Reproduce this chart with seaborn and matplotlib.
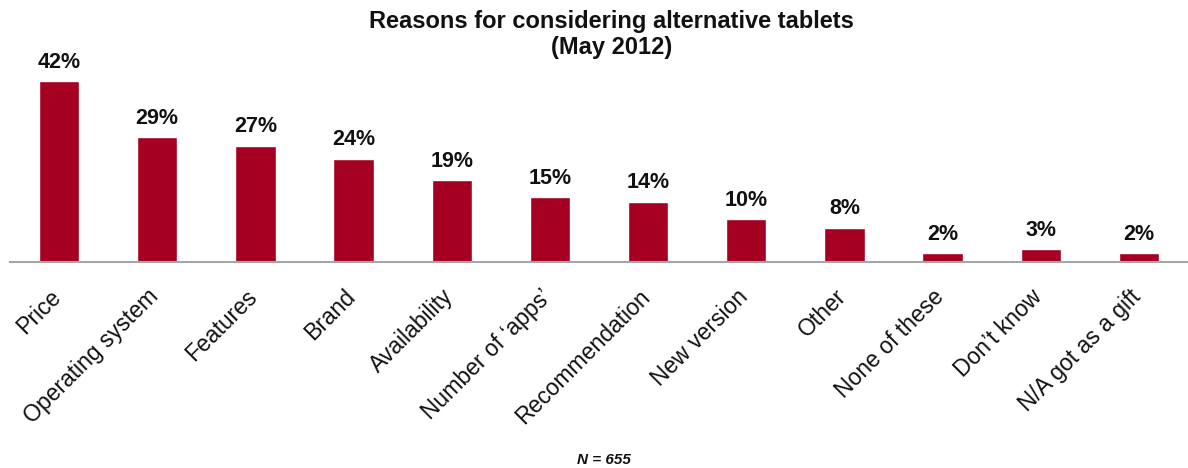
import matplotlib
matplotlib.use("Agg")
import matplotlib.pyplot as plt
import matplotlib.transforms as mtransforms
import seaborn as sns
import pandas as pd

categories = ["Price", "Operating system", "Features", "Brand", "Availability",
              "Number of \u2018apps\u2019", "Recommendation", "New version", "Other",
              "None of these", "Don\u2019t know", "N/A got as a gift"]
values = [42, 29, 27, 24, 19, 15, 14, 10, 8, 2, 3, 2]
value_labels = [f"{v}%" for v in values]
title = "Reasons for considering alternative tablets\n(May 2012)"
note = "N = 655"

sns.set_theme(style="white")
plt.rcParams['font.family'] = ['Liberation Sans', 'DejaVu Sans']

df = pd.DataFrame({"category": categories, "value": values})

fig = plt.figure(figsize=(11.88, 4.68), dpi=100)
ax = fig.add_axes([10/1188, 206/468, 1178/1188, 215.5/468])

sns.barplot(data=df, x="category", y="value", color="#A50021", saturation=1,
            width=0.41, ax=ax)

ax.set_ylim(0, 50)
ax.set_xlim(-0.5, len(categories) - 0.5)
ax.set_xlabel("")
ax.set_ylabel("")
ax.set_yticks([])
for s in ["top", "right", "left"]:
    ax.spines[s].set_visible(False)
ax.spines["bottom"].set_color("#a6a6a6")
ax.spines["bottom"].set_linewidth(1.5)

ax.bar_label(ax.containers[0], labels=value_labels, padding=6,
             fontsize=15.5, fontweight="bold", color="#111111")

ax.tick_params(axis="x", length=0, pad=16.5)
offset = mtransforms.ScaledTranslation(-10/100, 0, fig.dpi_scale_trans)
for lab in ax.get_xticklabels():
    lab.set_rotation(45)
    lab.set_ha("right")
    lab.set_rotation_mode("anchor")
    lab.set_fontsize(16.5)
    lab.set_color("#111111")
    lab.set_transform(lab.get_transform() + offset)

fig.text(0.515, 1 - 10/468, title, ha="center", va="top", fontsize=17,
         fontweight="bold", linespacing=1.15, color="#111111", multialignment="center")
fig.text(604/1188, 1 - 460/468, note, ha="center", va="center", fontsize=11,
         fontweight="bold", fontstyle="italic", color="#111111")

fig.savefig("out.png", dpi=100)
